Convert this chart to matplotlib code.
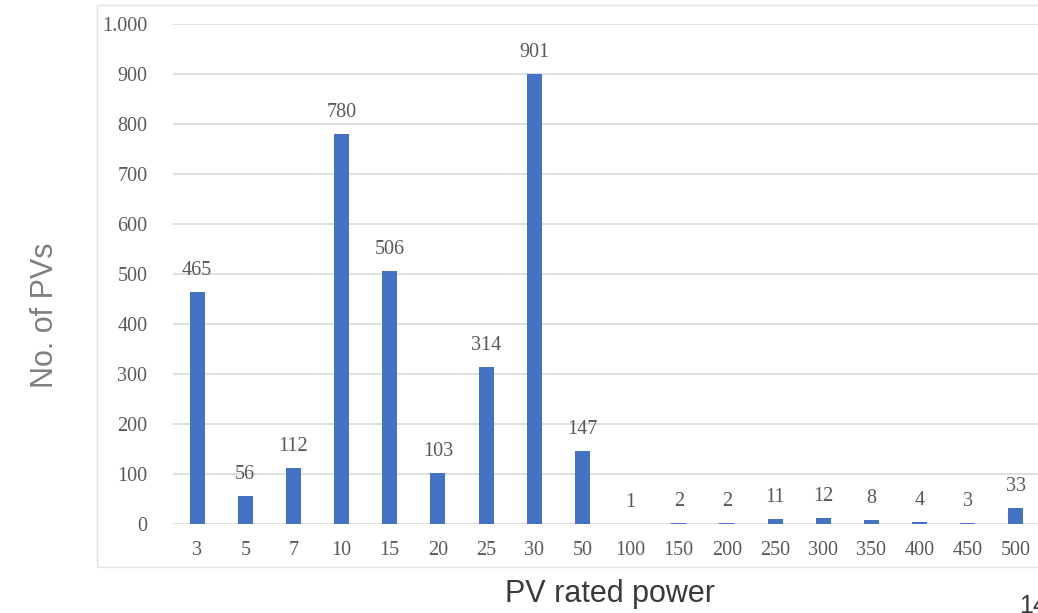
import matplotlib.pyplot as plt
from matplotlib.patches import Rectangle
from matplotlib.ticker import FuncFormatter

# PV rated power classes and number of installations in each
ratings = ["3", "5", "7", "10", "15", "20", "25", "30", "50", "100",
           "150", "200", "250", "300", "350", "400", "450", "500"]
counts = [465, 56, 112, 780, 506, 103, 314, 901, 147, 1,
          2, 2, 11, 12, 8, 4, 3, 33]

BAR = "#4472C4"
TICK_GREY = "#595959"
LABEL_GREY = "#7f7f7f"
GRID = "#d9d9d9"
SERIF = ["Liberation Serif", "DejaVu Serif"]
NARROW = ["Liberation Sans Narrow", "Liberation Sans", "DejaVu Sans"]

fig = plt.figure(figsize=(10.38, 6.13), dpi=100)

# light frame around the chart object
fig.patches.append(Rectangle((97 / 1038, 1 - 567 / 613), 1.0, (567 - 5) / 613,
                             transform=fig.transFigure, fill=False,
                             edgecolor="#e3e3e3", linewidth=1.0))

ax = fig.add_axes([173 / 1038, 1 - 524 / 613, 867 / 1038, 500 / 613])
x = range(len(ratings))
bars = ax.bar(x, counts, width=0.31, color=BAR, zorder=3)

ax.set_xlim(-0.5, len(ratings) - 0.5)
ax.set_ylim(0, 1000)
ax.set_yticks(range(0, 1001, 100))
ax.yaxis.set_major_formatter(FuncFormatter(lambda v, p: "1.000" if v == 1000 else f"{int(v)}"))
ax.set_xticks(list(x))
ax.set_xticklabels(ratings)

ax.grid(axis="y", color=GRID, linewidth=1.2, zorder=0)
ax.set_axisbelow(True)
for s in ax.spines.values():
    s.set_visible(False)
ax.tick_params(length=0, colors=TICK_GREY, labelsize=14.5)
ax.tick_params(axis="y", pad=18.5)
ax.tick_params(axis="x", pad=12.5)
for lab in ax.get_xticklabels() + ax.get_yticklabels():
    lab.set_family(SERIF)
    lab.set_color(TICK_GREY)

# value labels above each bar
for xi, c in zip(x, counts):
    ax.annotate(str(c), (xi, c), xytext=(0, 8.5), textcoords="offset points",
                ha="center", va="bottom", fontsize=14.5, family=SERIF, color=TICK_GREY)

fig.text(45 / 1038, 1 - 315 / 613, "No. of PVs", rotation=90, ha="center", va="center",
         fontsize=22, family=NARROW, color=LABEL_GREY)
fig.text(610 / 1038, 1 - 594 / 613, "PV rated power", ha="center", va="center",
         fontsize=22, family=NARROW, color="#3a3a3a")
fig.text(1019 / 1038, 1 - 606 / 613, "14", ha="left", va="center",
         fontsize=18, family=NARROW, color="#3a3a3a")

plt.savefig("out.png", dpi=100)
